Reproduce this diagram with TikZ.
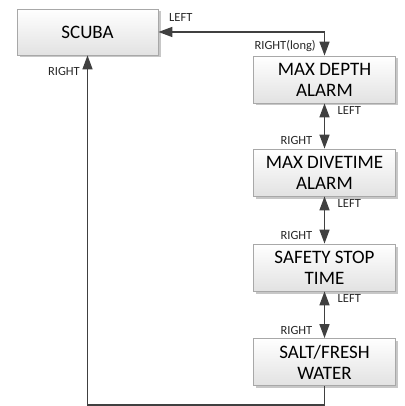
\documentclass[tikz,border=0pt]{standalone}
\usepackage{fontspec}
\setmainfont{Carlito}
\definecolor{mLineGray}{HTML}{404040}
\definecolor{mBoxEdge}{HTML}{A8A8A8}
\definecolor{mBoxLow}{HTML}{E2E2E2}
\usepackage{tikz}
\usetikzlibrary{positioning,arrows.meta,calc,shadows}

\begin{document}
\begin{tikzpicture}[x=1pt, y=-1pt,
  menubox/.style={rectangle, draw=mBoxEdge, line width=0.8pt, top color=white, bottom color=mBoxLow,
    minimum width=142pt, minimum height=47pt, inner sep=0pt, align=center,
    font=\fontsize{19}{21}\selectfont,
    drop shadow={shadow xshift=2.5pt, shadow yshift=-2.5pt, fill=black!22, opacity=1}},
  keylbl/.style={inner sep=0pt, font=\fontsize{12.5}{14}\selectfont, text=black!85},
  link/.style={mLineGray, line width=1.5pt},
  tip/.tip={Triangle[length=14pt, width=10pt]}]
\useasboundingbox (0,0) rectangle (404,406);
% menu boxes
\node[menubox, minimum width=141pt, minimum height=46pt] (scuba) at (87.5,32) {SCUBA};
\node[menubox] (depth) at (324.5,79.5) {MAX DEPTH\\ALARM};
\node[menubox] (divetime) at (324.5,172.5) {MAX DIVETIME\\ALARM};
\node[menubox] (safety) at (324.5,267.5) {SAFETY STOP\\TIME};
\node[menubox] (water) at (324.5,362) {SALT/FRESH\\WATER};
% top link SCUBA <-> MAX DEPTH
\draw[link, tip-tip] (scuba.east) -| (depth.north);
\node[keylbl, anchor=base west] (lscuba) at (169,22) {LEFT};
\node[keylbl, anchor=base east] (rlong) at (316,50) {RIGHT(long)};
% links down the column
\foreach \a/\b/\n in {depth/divetime/1, divetime/safety/2, safety/water/3}{
  \draw[link, tip-tip] (\a.south) -- (\b.north);
  \node[keylbl, anchor=base west] (left\n) at ($(\a.south)+(13,11.5)$) {LEFT};
  \node[keylbl, anchor=base east] (right\n) at ($(\b.north)+(-12,-4)$) {RIGHT};
}
% return to SCUBA
\coordinate (turn) at ($(water.south)+(0,19)$);
\draw[link, -tip] (water.south) -- (turn) -| (scuba.south);
\node[keylbl, anchor=base east] (rscuba) at (80,76) {RIGHT};
\end{tikzpicture}
\end{document}
